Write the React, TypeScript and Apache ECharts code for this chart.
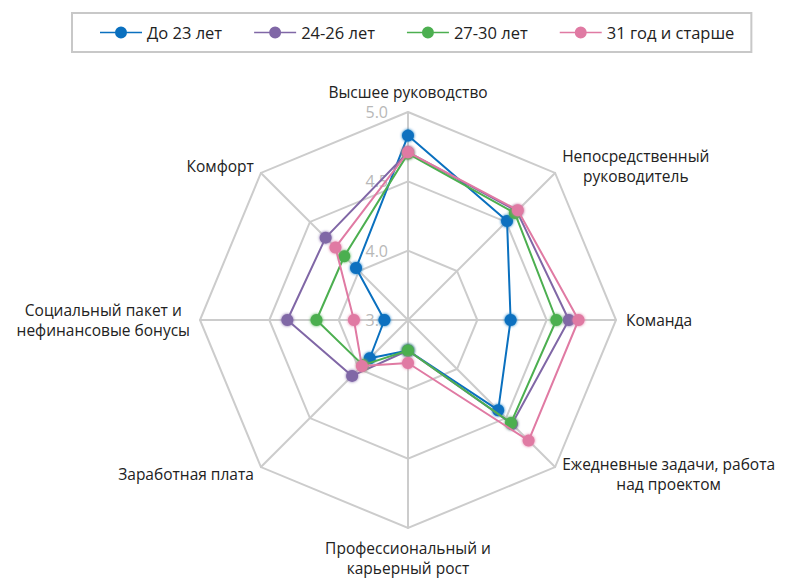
import React, { useEffect, useRef } from "react";
import * as echarts from "echarts";

const indicators = [
  "Высшее руководство",
  "Комфорт",
  "Социальный пакет и\nнефинансовые бонусы",
  "Заработная плата",
  "Профессиональный и\nкарьерный рост",
  "Ежедневные задачи, работа\nнад проектом",
  "Команда",
  "Непосредственный\nруководитель",
];

const seriesNames = ["До 23 лет", "24-26 лет", "27-30 лет", "31 год и старше"];
const colors = ["#0a70bf", "#8067a6", "#4caf50", "#e07aa3"];

const under23 = [4.83, 4.03, 3.67, 3.89, 3.72, 4.42, 4.24, 4.51];
const age24to26 = [4.71, 4.34, 4.37, 4.07, 3.72, 4.56, 4.66, 4.61];
const age27to30 = [4.70, 4.15, 4.16, 3.96, 3.72, 4.55, 4.57, 4.59];
const age31plus = [4.71, 4.24, 3.89, 3.97, 3.81, 4.73, 4.73, 4.62];

const axisMin = 3.5;
const axisMax = 5.0;
const axisStep = 0.5;

const FONT = "'Open Sans', 'Noto Sans', sans-serif";

const legendIcon =
  "path://M0,5.2 L15.5,5.2 L15.5,6.8 L0,6.8 Z M26.5,5.2 L42,5.2 L42,6.8 L26.5,6.8 Z M15,6 A6,6 0 1,1 27,6 A6,6 0 1,1 15,6 Z";

export default function App() {
  const ref = useRef<HTMLDivElement>(null);
  useEffect(() => {
    if (!ref.current) return;
    const chart = echarts.init(ref.current, null, { renderer: "svg" });
    const allData = [under23, age24to26, age27to30, age31plus];
    chart.setOption({
      animation: false,
      backgroundColor: "#ffffff",
      textStyle: { fontFamily: FONT },
      legend: {
        data: seriesNames.map((n) => ({ name: n, icon: legendIcon })),
        left: 72,
        top: 13,
        orient: "horizontal",
        padding: [11, 17, 11, 28],
        borderColor: "#c8c8c8",
        borderWidth: 2,
        itemWidth: 42,
        itemHeight: 12,
        itemGap: 32,
        textStyle: { fontSize: 16.5, color: "#222", fontFamily: FONT },
      },
      radar: {
        center: [408, 320],
        radius: 208,
        startAngle: 90,
        splitNumber: 3,
        shape: "polygon",
        indicator: indicators.map((n) => ({ name: n, min: axisMin, max: axisMax })),
        axisName: {
          color: "#222",
          fontSize: 15.5,
          fontFamily: FONT,
          lineHeight: 20,
          formatter: (name: string) =>
            name
              .split("\n")
              .map((l) => "{c|" + l + "}")
              .join("\n"),
          rich: {
            c: {
              align: "center",
              color: "#222",
              fontSize: 15.5,
              fontFamily: FONT,
              lineHeight: 20,
            },
          },
        },
        nameGap: 10,
        splitLine: { lineStyle: { color: "#cccccc", width: 2 } },
        axisLine: { lineStyle: { color: "#cccccc", width: 2 } },
        splitArea: { show: false },
        axisLabel: { show: false },
        axisTick: { show: false },
      },
      polar: { center: [408, 320], radius: 208 },
      angleAxis: {
        startAngle: 90,
        show: false,
        min: 0,
        max: 360,
      },
      radiusAxis: {
        min: axisMin,
        max: axisMax,
        interval: axisStep,
        axisLine: { show: false },
        axisTick: { show: false },
        splitLine: { show: false },
        axisLabel: {
          color: "#b8b8b8",
          fontSize: 16,
          fontFamily: FONT,
          formatter: (v: number) => v.toFixed(1),
          margin: 20,
        },
        z: 0,
      },
      series: allData.map((d, i) => ({
        type: "radar",
        name: seriesNames[i],
        symbol: "circle",
        symbolSize: 12,
        z: 2 + i,
        lineStyle: { color: colors[i], width: 2 },
        itemStyle: { color: colors[i], shadowBlur: 3, shadowColor: colors[i] },
        data: [{ value: d, name: seriesNames[i] }],
      })),
    });
    return () => chart.dispose();
  }, []);
  return (
    <div
      ref={ref}
      style={{ position: "fixed", left: 0, top: 0, width: 785, height: 580 }}
    />
  );
}
